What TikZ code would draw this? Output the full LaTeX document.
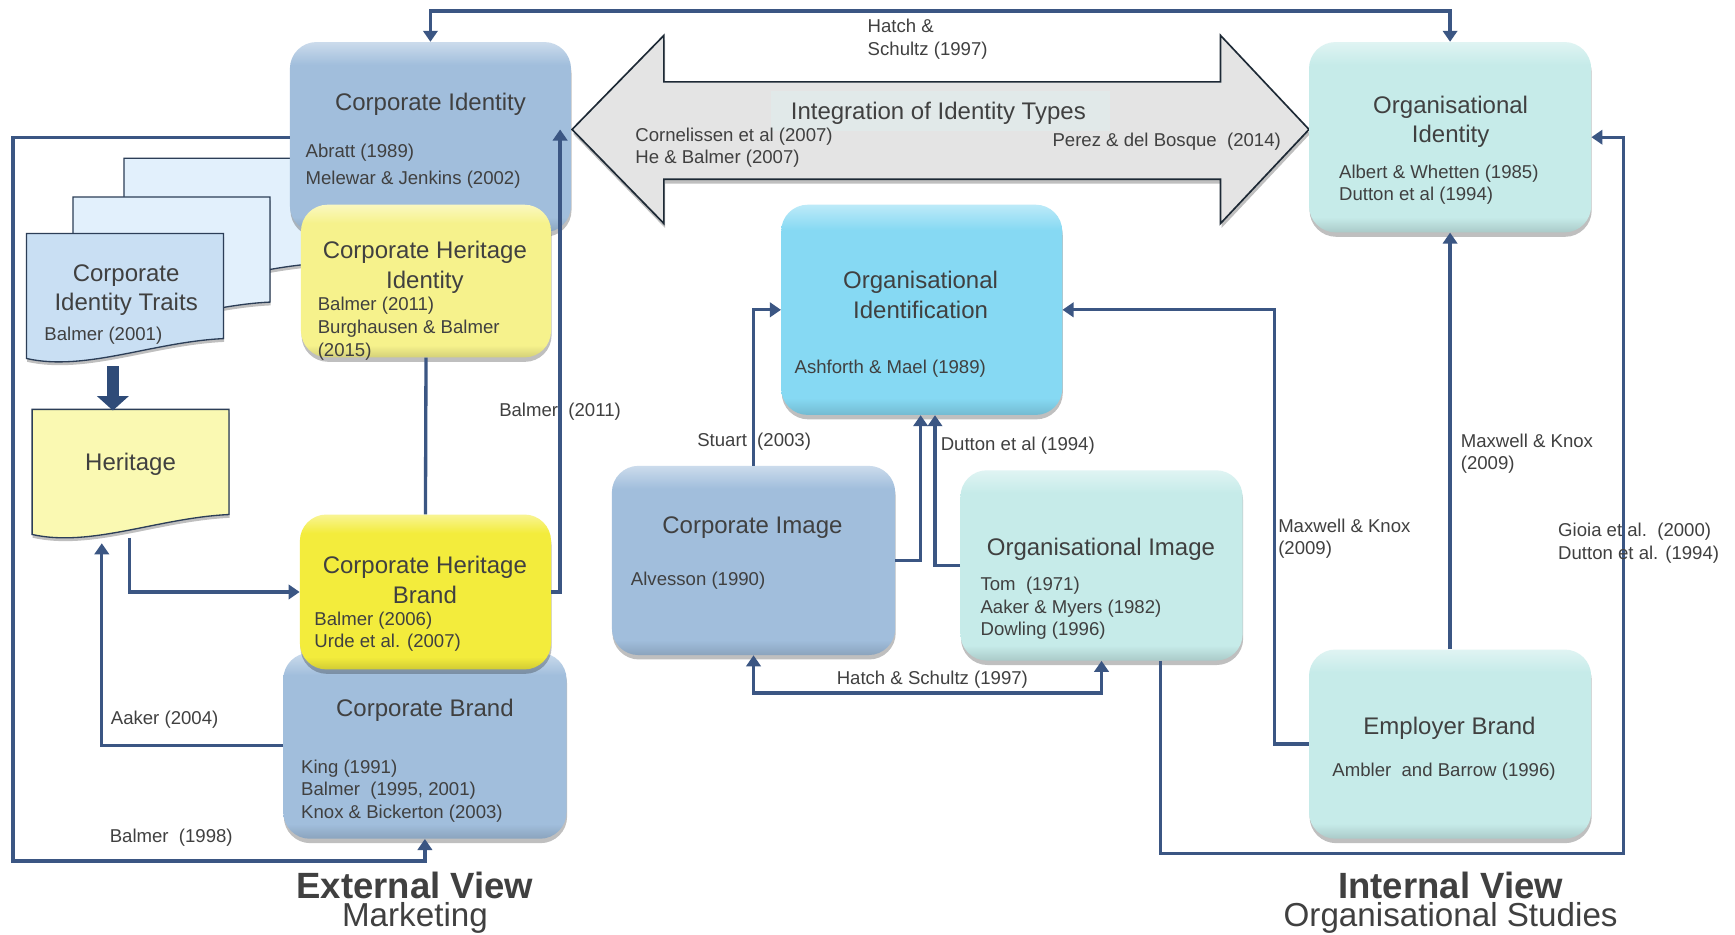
\documentclass[tikz,border=0pt]{standalone}
\usepackage{fontspec}
\setmainfont{Liberation Sans}
\usetikzlibrary{arrows.meta,shadows,calc}

\definecolor{connc}{HTML}{3B5683}
\definecolor{thickc}{HTML}{2F4B78}
\definecolor{txt}{HTML}{404040}
\definecolor{boxBlue}{HTML}{A1BEDC}
\definecolor{boxCyan}{HTML}{C6EBE9}
\definecolor{boxSky}{HTML}{86D9F3}
\definecolor{yelLight}{HTML}{F6F28C}
\definecolor{yelBright}{HTML}{F3EC3C}
\definecolor{docBlue}{HTML}{C9DFF3}
\definecolor{docPale}{HTML}{E2F0FC}
\definecolor{docYellow}{HTML}{FAF9B2}
\definecolor{docEdge}{HTML}{2C3E57}
\definecolor{arrFill}{HTML}{E4E4E4}
\definecolor{arrEdge}{HTML}{1D2935}
\definecolor{hiFill}{HTML}{E1E9E9}

% glossy box shading: darker bottom rim, flat body, lighter top rim
\colorlet{gbase}{white}\colorlet{glight}{white}\colorlet{gdark}{white}
\pgfdeclarehorizontalshading[gbase,glight,gdark]{gloss}{100bp}{%
  color(0bp)=(gdark); color(25bp)=(gdark); color(29bp)=(gbase);
  color(69bp)=(gbase); color(75bp)=(glight); color(100bp)=(glight)}

\newcommand\titlefnt{\fontsize{21.7}{26.5}\selectfont}
\newcommand\reffnt{\fontsize{16.8}{20.4}\selectfont}
\newcommand\bigfnt{\fontsize{33}{25}\selectfont\bfseries}
\newcommand\subfnt{\fontsize{30}{25}\selectfont}

% document symbol with a wavy lower edge: left x, top y, fill colour
\newcommand\docshape[3]{%
  \path[docsty,fill=#3] (#1,#2) -- (#1+178,#2) -- (#1+178,#2+95)
    .. controls (#1+114,#2+98) and (#1+53,#2+125) .. (#1,#2+113) -- cycle;}

\tikzset{
  cTip/.tip={Triangle[width=13pt,length=10pt]},
  ibox/.style={rounded corners=24pt, inner sep=0pt, shade, shading=gloss,
    shading angle=90,
    /utils/exec={\colorlet{gbase}{#1}\colorlet{glight}{#1!55!white}\colorlet{gdark}{#1!86!black}},
    drop shadow={shadow xshift=0.5pt,shadow yshift=-4pt,opacity=0.25,fill=black}},
  docsty/.style={draw=docEdge, line width=1.2pt,
    drop shadow={shadow xshift=0.5pt,shadow yshift=-3pt,opacity=0.25,fill=black}},
  conn/.style={draw=connc, line width=3pt},
  thickarr/.style={draw=thickc, line width=11pt, -{Triangle[width=28pt,length=13pt]}},
  ttl/.style={font=\titlefnt, text=txt, align=center, inner sep=0pt},
  ref/.style={font=\reffnt, text=txt, align=left, anchor=west, inner sep=0pt},
  lbl/.style={font=\reffnt, text=txt, align=left, anchor=west, inner sep=0pt},
  caption/.style={font={\fontsize{30}{25}\selectfont\lineskiplimit=-30pt},
    text=txt, align=center, anchor=north, inner sep=0pt},
}

\begin{document}
\begin{tikzpicture}[x=1pt,y=-1pt]
\useasboundingbox[fill=white] (0,0) rectangle (1568,845);

% ---- integration double arrow ----
\path[fill=arrFill, draw=arrEdge, line width=1.5pt,
      drop shadow={shadow xshift=1pt,shadow yshift=-4pt,opacity=0.25,fill=black}]
  (517,117) -- (600,32) -- (600,74) -- (1103,74) -- (1103,32) -- (1183,117)
  -- (1103,202) -- (1103,162) -- (600,162) -- (600,202) -- cycle;
\fill[hiFill] (697,82) rectangle (1003,118);

% ---- stacked identity-trait documents ----
\docshape{112}{143}{docPale}
\docshape{66}{178}{docPale}
\docshape{24}{211}{docBlue}
\docshape{29}{370}{docYellow}
\coordinate (citB) at (102,331);
\coordinate (herTop) at (102,371);
\coordinate (herB1) at (117,486);
\coordinate (herB2) at (92,491);

% ---- boxes ----
\node[ibox=boxBlue, minimum width=254pt, minimum height=172pt] (ci) at (389,124) {};
\node[ibox=yelLight, minimum width=226pt, minimum height=138pt] (chi) at (385,254) {};
\node[ibox=boxBlue, minimum width=256pt, minimum height=168pt] (cb) at (384,674) {};
\node[ibox=yelBright, minimum width=227pt, minimum height=140pt] (chb) at (384.5,535) {};
\node[ibox=boxCyan, minimum width=255pt, minimum height=172pt] (oi) at (1310.5,124) {};
\node[ibox=boxSky, minimum width=254pt, minimum height=190pt] (oif) at (833,280) {};
\node[ibox=boxBlue, minimum width=256pt, minimum height=171pt] (cim) at (681,506.5) {};
\node[ibox=boxCyan, minimum width=255pt, minimum height=172pt] (oim) at (995.5,511) {};
\node[ibox=boxCyan, minimum width=255pt, minimum height=171pt] (eb) at (1310.5,672.5) {};

% ---- connectors ----
\draw[conn,cTip-cTip] (ci.north) -- ++(0,-28) -| (oi.north);
\draw[conn,-cTip] (ci.west) -- ++(-250,0) |- ($(cb.south)+(0,20)$) -- (cb.south);
\draw[conn,-cTip] (chb.east) -| ([xshift=-10pt,yshift=7pt]ci.east);
\draw[conn] (chi.south) -- (chb.north);
\draw[thickarr] (citB) -- (herTop);
\draw[conn,-cTip] (herB1) |- (chb.west);
\draw[conn,-cTip] (cb.west) -| (herB2);
\draw[conn,-cTip] (cim.north) |- (oif.west);
\draw[conn,-cTip] (cim.east) -| ([xshift=-1pt]oif.south);
\draw[conn,-cTip] (oim.west) -| ([xshift=12pt]oif.south);
\draw[conn,cTip-cTip] (cim.south) -- ++(0,34) -| (oim.south);
\draw[conn,-cTip] (eb.west) -- ++(-31,0) |- (oif.east);
\draw[conn,-cTip] (eb.north) -- (oi.south);
\draw[conn,-cTip] ([xshift=53pt]oim.south) -- ++(0,174) -- ++(418.5,0) |- (oi.east);

% ---- texts, set a little lower than their nominal centres ----
\begin{scope}[yshift=-2pt]
% box texts
\node[ttl] (ciT) at (389,92) {Corporate Identity};
\node[ref] (ciR1) at (276,136) {Abratt (1989)};
\node[ref] (ciR2) at (276,160) {Melewar \& Jenkins (2002)};

\node[ttl] (chiT) at (384,239.5) {Corporate Heritage\\Identity};
\node[ref] (chiR) at (287,295) {Balmer (2011)\\Burghausen \& Balmer\\(2015)};

\node[ttl] (citT) at (114,260) {Corporate\\Identity Traits};
\node[ref] (citR) at (40,301) {Balmer (2001)};

\node[ttl] (herTt) at (118,418) {Heritage};

\node[ttl] (chbT) at (384,522) {Corporate Heritage\\Brand};
\node[ref] (chbR) at (284,569) {Balmer (2006)\\Urde et al. (2007)};

\node[ttl] (cbT) at (384,640) {Corporate Brand};
\node[ref] (cbR) at (272,713) {King (1991)\\Balmer\ \ (1995, 2001)\\Knox \& Bickerton (2003)};

\node[ttl] (oiT) at (1311,108) {Organisational\\Identity};
\node[ref] (oiR) at (1210,165) {Albert \& Whetten (1985)\\Dutton et al (1994)};

\node[ttl] (oifT) at (832,264.5) {Organisational\\Identification};
\node[ref] (oifR) at (718,331) {Ashforth \& Mael (1989)};

\node[ttl] (cimT) at (680,475) {Corporate Image};
\node[ref] (cimR) at (570,523) {Alvesson (1990)};

\node[ttl] (oimT) at (995,494) {Organisational Image};
\node[ref] (oimR) at (886,548) {Tom\ \ (1971)\\Aaker \& Myers (1982)\\Dowling (1996)};

\node[ttl] (ebT) at (1310,656) {Employer Brand};
\node[font=\reffnt, text=txt, inner sep=0pt] (ebR) at (1305,695) {Ambler\ \ and Barrow (1996)};

\node[ttl] (intT) at (848,100) {Integration of Identity Types};
\node[ref] (intR1) at (574,131.5) {Cornelissen et al (2007)\\He \& Balmer (2007)};
\node[ref] (intR2) at (951,126) {Perez \& del Bosque\ \ (2014)};

% connector labels
\node[lbl] (lHatchTop) at (784,33.5) {Hatch \&\\Schultz (1997)};
\node[lbl] (lBalmer11) at (451,370) {Balmer\ \ (2011)};
\node[lbl] (lStuart) at (630,397) {Stuart\ \ (2003)};
\node[lbl] (lDutton) at (850,401) {Dutton et al (1994)};
\node[lbl] (lHatchLow) at (756,612) {Hatch \& Schultz (1997)};
\node[lbl] (lMaxA) at (1155,485) {Maxwell \& Knox\\(2009)};
\node[lbl] (lMaxB) at (1320,408) {Maxwell \& Knox\\(2009)};
\node[lbl] (lGioia) at (1408,489) {Gioia et al.\ \ (2000)\\Dutton et al. (1994)};
\node[lbl] (lAaker) at (100,648) {Aaker (2004)};
\node[lbl] (lBalmer98) at (99,755) {Balmer\ \ (1998)};
\end{scope}

% ---- view captions ----
\node[caption] (extV) at (375,788) {{\bigfnt External View}\\{\subfnt Marketing}};
\node[caption] (intV) at (1311,788) {{\bigfnt Internal View}\\{\subfnt Organisational Studies}};
\end{tikzpicture}
\end{document}
